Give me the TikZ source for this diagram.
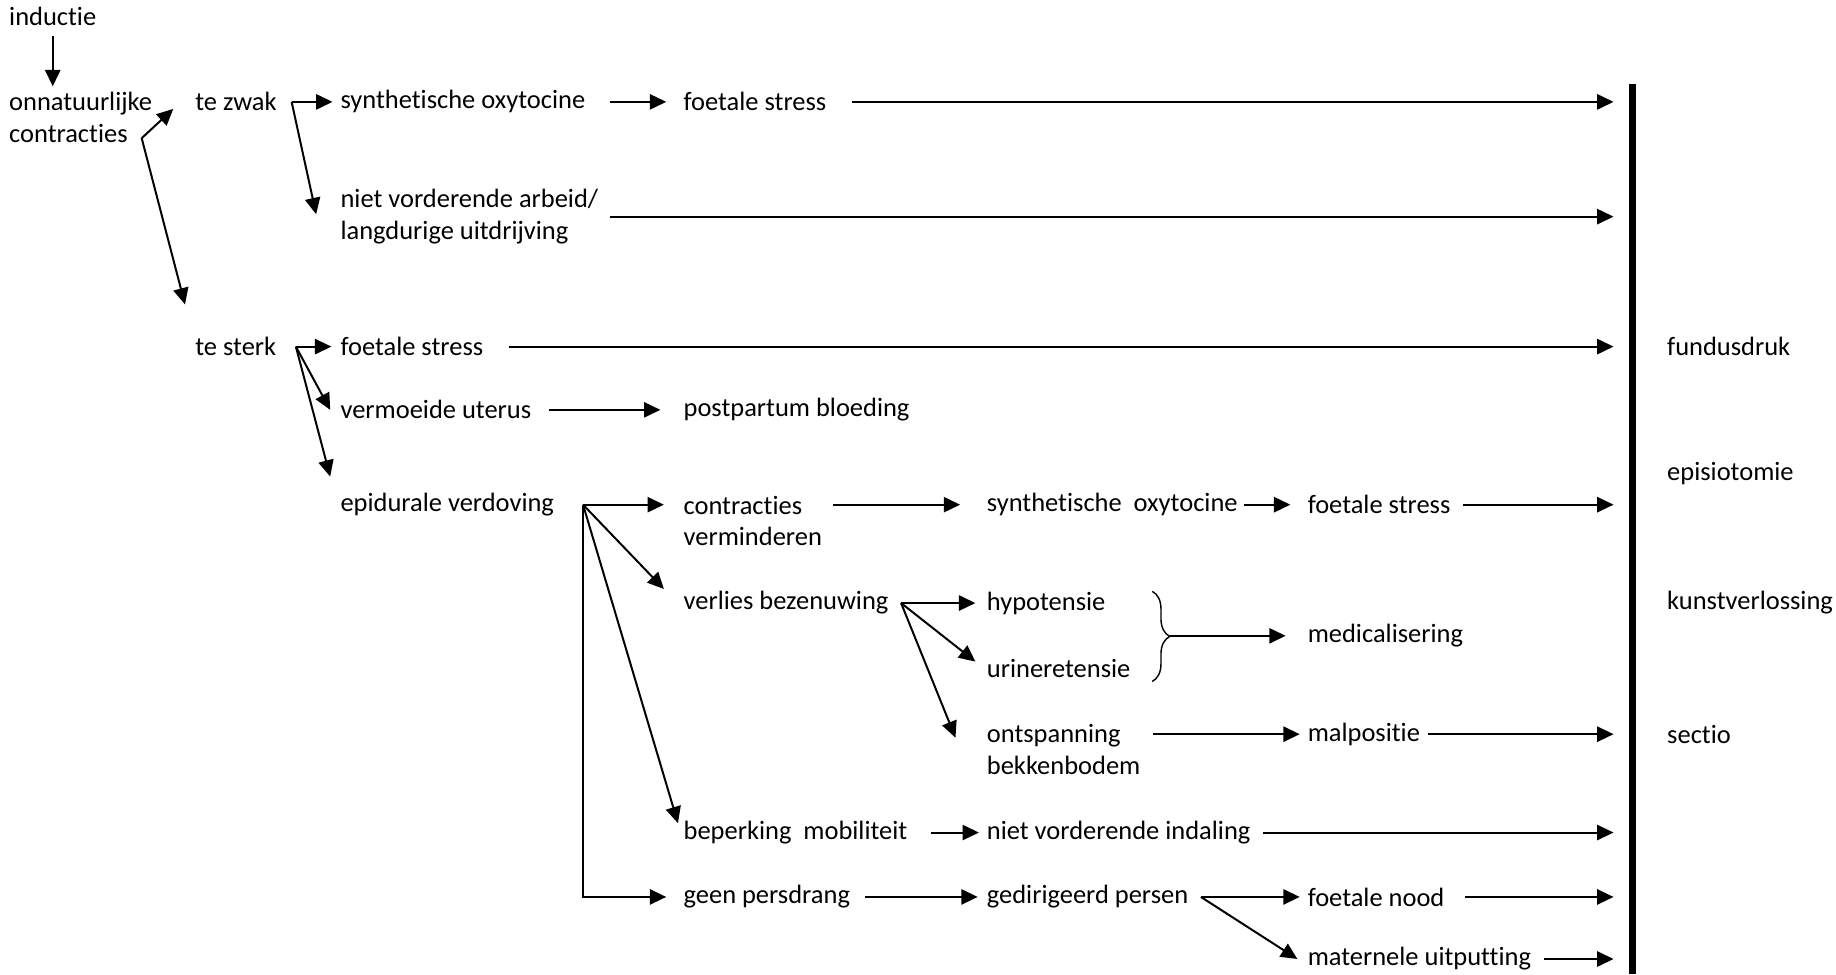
\documentclass[tikz,border=0pt]{standalone}
\usepackage{fontspec}
\setmainfont{Carlito}[Ligatures=NoCommon]
\usetikzlibrary{arrows.meta,positioning,decorations.pathreplacing}
\tikzset{
  term/.style={anchor=west,inner sep=0pt,align=left,font=\fontsize{11.3}{13.5}\selectfont},
  >={Triangle[length=7pt,width=6.5pt]},
}
\begin{document}
\begin{tikzpicture}[x=0.5pt,y=-0.5pt,line width=0.85pt]
\useasboundingbox (0,0) rectangle (1568,832);
\pgfmathsetmacro{\ka}{7}
\pgfmathsetmacro{\kb}{166}
\pgfmathsetmacro{\kc}{290}
\pgfmathsetmacro{\kd}{583}
\pgfmathsetmacro{\ke}{842}
\pgfmathsetmacro{\kf}{1116}
\pgfmathsetmacro{\kg}{1423}
% eindbalk
\coordinate (tip) at (1378,0);
\draw[line width=3pt] (1394,72) -- (1394,832);
%
\node[term] (ind) at (\ka,14) {inductie};
\node[term] (onn) at (\ka,100) {onnatuurlijke\\contracties};
\coordinate (v0) at (121,118);
%
\node[term] (zwak) at (\kb,87) {te zwak};
\node[term] (sto1) at (\kc,87) {synthetische oxytocine};
\node[term] (fst1) at (\kd,87) {foetale stress};
\node[term] (nva) at (\kc,185) {niet vorderende arbeid/\\langdurige uitdrijving};
%
\node[term] (sterk) at (\kb,296) {te sterk};
\node[term] (fst2) at (\kc,296) {foetale stress};
\node[term] (vu) at (\kc,350) {vermoeide uterus};
\node[term] (ppb) at (\kd,350) {postpartum bloeding};
\node[term] (epi) at (\kc,431) {epidurale verdoving};
%
\node[term] (cv) at (\kd,445) {contracties\\verminderen};
\node[term] (sto2) at (\ke,431) {synthetische\ \ oxytocine};
\node[term] (fst3) at (\kf,431) {foetale stress};
%
\node[term] (vb) at (\kd,515) {verlies bezenuwing};
\node[term] (hyp) at (\ke,515) {hypotensie};
\node[term] (uri) at (\ke,571) {urineretensie};
\node[term] (med) at (\kf,543) {medicalisering};
\node[term] (obb) at (\ke,640) {ontspanning\\bekkenbodem};
\node[term] (malp) at (\kf,627) {malpositie};
%
\node[term] (bm) at (\kd,711) {beperking\ \ mobiliteit};
\node[term] (nvi) at (\ke,711) {niet vorderende indaling};
\node[term] (gp) at (\kd,766) {geen persdrang};
\node[term] (gdp) at (\ke,766) {gedirigeerd persen};
\node[term] (fn) at (\kf,766) {foetale nood};
\node[term] (mu) at (\kf,819) {maternele uitputting};
% rechts van de balk
\node[term] (fd) at (\kg,296) {fundusdruk};
\node[term] (eps) at (\kg,404) {episiotomie};
\node[term] (kv) at (\kg,515) {kunstverlossing};
\node[term] (sec) at (\kg,627) {sectio};
%
\coordinate[right=6pt of zwak] (v1);
\coordinate[right=8pt of sterk] (v2);
\coordinate[right=12pt of epi] (v3);
\coordinate[right=5pt of vb] (v4);
\coordinate[right=5pt of gdp] (v5);
\coordinate (brc) at (999,543);
%
\draw[->,shorten <=4pt,shorten >=2pt] (ind.south) -- (ind.south |- onn.north);
\draw[->] (v0) -- ([xshift=-9pt,yshift=-3pt]zwak.west);
\draw[->] (v0) -- ([xshift=-4pt,yshift=18pt]sterk.west);
%
\draw[->,shorten >=3pt] (v1) -- (sto1);
\draw[->] (v1) -- ([xshift=-10pt,yshift=1pt]nva.west);
\draw[->,shorten <=10pt,shorten >=7pt] (sto1) -- (fst1);
\draw[->,shorten <=10.5pt] (fst1) -- (fst1 -| tip);
\draw[->,shorten <=4.5pt] (nva.east) -- (nva.east -| tip);
%
\draw[->,shorten >=3.5pt] (v2) -- (fst2);
\draw[->] (v2) -- ([xshift=-4pt]vu.west);
\draw[->] (v2) -- ([xshift=-4pt,yshift=12pt]epi.west);
\draw[->,shorten <=10.5pt] (fst2) -- (fst2 -| tip);
\draw[->,shorten <=7pt,shorten >=9.5pt] (vu) -- (ppb);
%
\draw[->,shorten >=8pt] (v3) -- (v3 -| cv.west);
\draw[->] (v3) -- ([xshift=-8pt,yshift=6pt]vb.west);
\draw[->] (v3) -- ([xshift=-2pt,yshift=4pt]bm.west);
\draw[->,shorten >=7pt] (v3) |- (gp);
%
\draw[->,shorten <=4.5pt,shorten >=11pt] (cv.east |- sto2) -- (sto2);
\draw[->,shorten <=2.5pt,shorten >=7pt] (sto2) -- (fst3);
\draw[->,shorten <=5pt] (fst3) -- (fst3 -| tip);
%
\draw[->,shorten >=4.5pt] (v4) -- (hyp);
\draw[->] (v4) -- ([xshift=-4.5pt,yshift=3pt]uri.west);
\draw[->] (v4) -- ([xshift=-13pt,yshift=5pt]obb.west);
\draw[line width=0.6pt,decorate,decoration={brace,amplitude=7.5pt}] (984,505) -- (984,582);
\draw[->,shorten >=9pt] (brc) -- (med);
\draw[->,shorten <=5pt,shorten >=3pt] (obb.east |- malp) -- (malp);
\draw[->,shorten <=3pt] (malp) -- (malp -| tip);
%
\draw[->,shorten <=9.5pt,shorten >=3pt] (bm) -- (nvi);
\draw[->,shorten <=5pt] (nvi) -- (nvi -| tip);
\draw[->,shorten <=6pt,shorten >=3.5pt] (gp) -- (gdp);
\draw[->,shorten >=3pt] (v5) -- (fn);
\draw[->] (v5) -- ([xshift=-4pt]mu.west);
\draw[->,shorten <=8.5pt] (fn) -- (fn -| tip);
\draw[->,shorten <=5pt] (mu) -- (mu -| tip);
\end{tikzpicture}
\end{document}
